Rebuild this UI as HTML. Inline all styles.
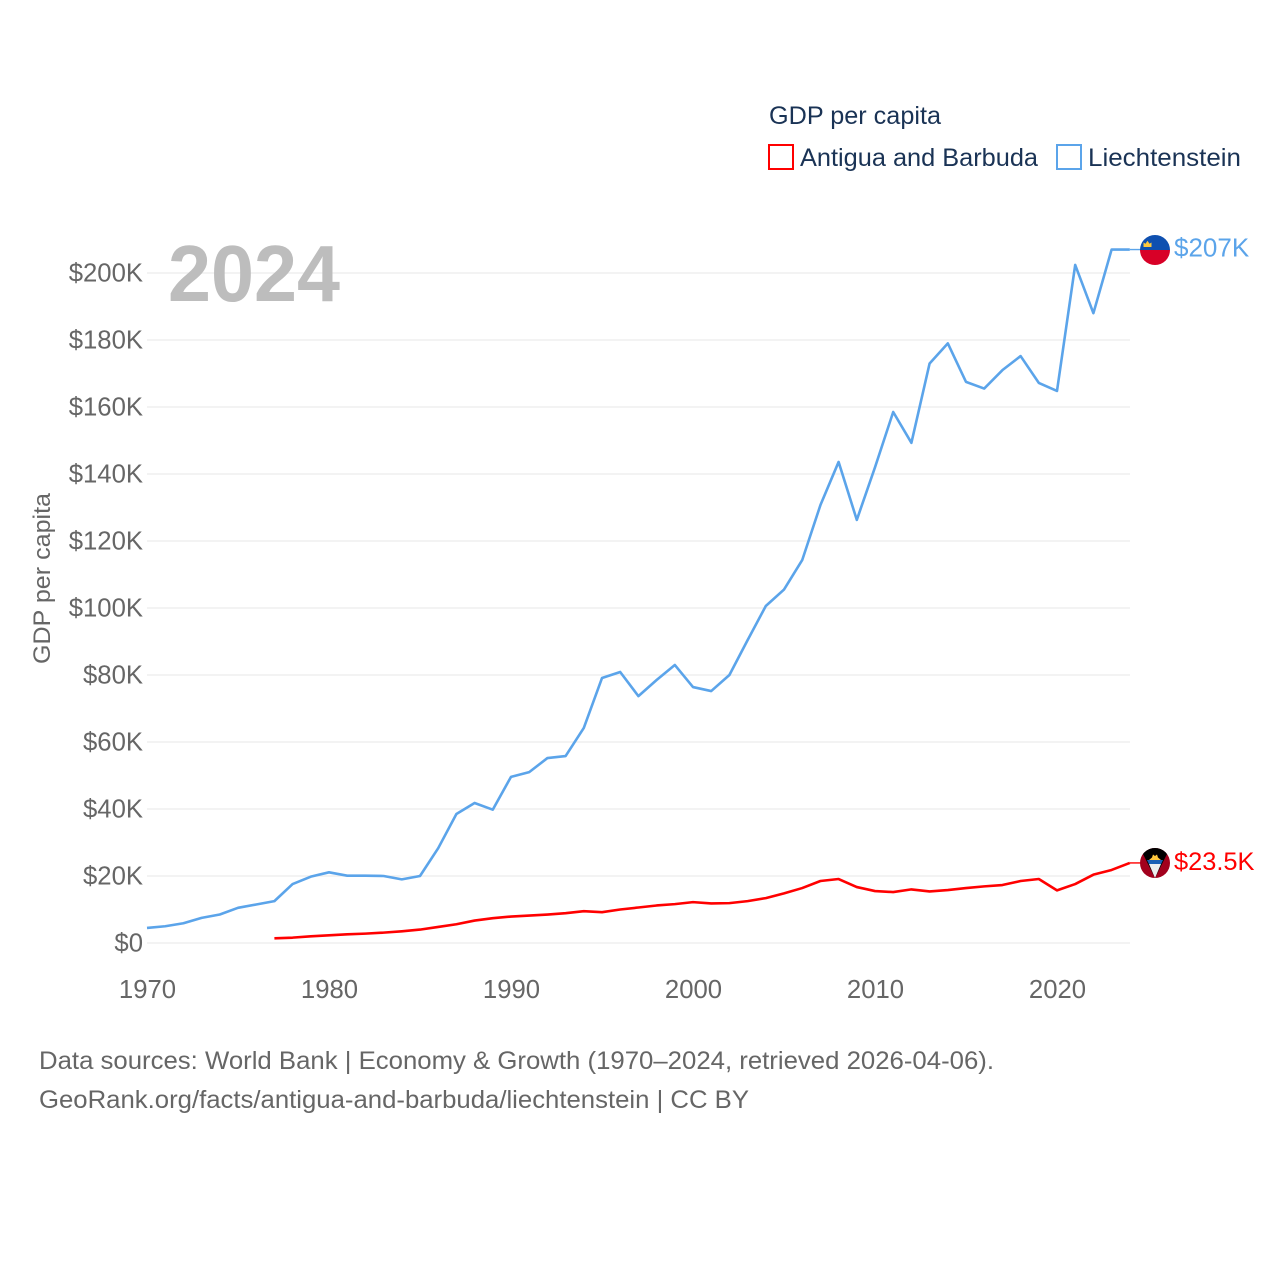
<!DOCTYPE html>
<html lang="en">
<head>
<meta charset="utf-8">
<title>GDP per capita: Antigua and Barbuda vs Liechtenstein</title>
<style>
html,body{margin:0;padding:0;background:#fff;width:1280px;height:1280px;overflow:hidden}
svg{display:block}
text{font-family:"Liberation Sans",sans-serif}
</style>
</head>
<body>
<svg id="chart" xmlns="http://www.w3.org/2000/svg" width="1280" height="1280" viewBox="0 0 1280 1280">
  <defs>
    <clipPath id="flag-li"><circle cx="1155" cy="250" r="15"/></clipPath>
    <clipPath id="flag-ag"><circle cx="1155" cy="863" r="15"/></clipPath>
  </defs>
  <g id="grid"></g>
  <g id="yticks"></g>
  <g id="xticks"></g>
  <text x="168" y="301" font-size="80" font-weight="700" fill="#bdbdbd" textLength="172" lengthAdjust="spacingAndGlyphs">2024</text>
  <text transform="translate(50,664) rotate(-90)" font-size="24" fill="#666" textLength="171" lengthAdjust="spacingAndGlyphs">GDP per capita</text>
  <g id="series"></g>

  <g>
    <text x="769" y="124" font-size="25" fill="#1a3355" textLength="172" lengthAdjust="spacingAndGlyphs">GDP per capita</text>
    <g>
      <rect x="769" y="145" width="24" height="24" fill="#fff" stroke="#ff0000" stroke-width="2"/>
      <text x="800" y="166" font-size="25" fill="#1a3355" textLength="238" lengthAdjust="spacingAndGlyphs">Antigua and Barbuda</text>
    </g>
    <g>
      <rect x="1057" y="145" width="24" height="24" fill="#fff" stroke="#5ba4ea" stroke-width="2"/>
      <text x="1088" y="166" font-size="25" fill="#1a3355" textLength="153" lengthAdjust="spacingAndGlyphs">Liechtenstein</text>
    </g>
  </g>

  <g clip-path="url(#flag-li)">
    <rect x="1140" y="235" width="30" height="15" fill="#0f50b0"/>
    <rect x="1140" y="250" width="30" height="15" fill="#d80027"/>
    <path d="M1143.500 247 h8 v-4.500 l-2 1.300 l-2 -3 l-2 3 l-2 -1.300 z" fill="#ffc83d"/>
  </g>
  <g clip-path="url(#flag-ag)">
    <rect x="1140" y="848" width="30" height="30" fill="#a2001d"/>
    <path d="M1140 848 h30 l-15 30 z" fill="#000"/>
    <path d="M1149 860 l3 -2.500 l1 -3 l2 1.500 l2 -1.500 l1 3 l3 2.500 z" fill="#ffc83d"/>
    <path d="M1147 860 h16 l-1.900 4 h-12.200 z" fill="#1a5fb4"/>
    <path d="M1149 864 h12 l-6 14 z" fill="#eee"/>
  </g>
  <g id="endlabels"></g>

  <text x="39" y="1069" font-size="25" fill="#666" textLength="955" lengthAdjust="spacingAndGlyphs">Data sources: World Bank | Economy &amp; Growth (1970–2024, retrieved 2026-04-06).</text>
  <text x="39" y="1108" font-size="25" fill="#666" textLength="710" lengthAdjust="spacingAndGlyphs">GeoRank.org/facts/antigua-and-barbuda/liechtenstein | CC BY</text>
</svg>
<script>
const liechtensteinStartYear = 1970;
const liechtensteinValues = [4.5,5,5.9,7.5,8.5,10.5,11.5,12.5,17.6,19.8,21.1,20.1,20.1,20,19,20,28.3,38.5,41.8,39.8,49.6,51,55.2,55.8,64.2,79.1,80.9,73.7,78.5,83,76.4,75.2,80,90.4,100.6,105.5,114.3,130.7,143.6,126.3,142,158.5,149.3,173,179,167.5,165.5,171,175.2,167.2,164.8,202.4,188,207,207];
const antiguaStartYear = 1977;
const antiguaValues = [1.4,1.6,2,2.3,2.6,2.8,3.1,3.5,4,4.8,5.6,6.7,7.4,7.9,8.2,8.5,8.9,9.5,9.2,10,10.6,11.2,11.6,12.2,11.8,11.9,12.5,13.4,14.8,16.4,18.5,19.1,16.7,15.5,15.2,16,15.4,15.8,16.4,16.9,17.3,18.5,19.1,15.7,17.6,20.4,21.8,23.9];
const yTickValues = [0,20,40,60,80,100,120,140,160,180,200];
const yTickLabels = ["$0","$20K","$40K","$60K","$80K","$100K","$120K","$140K","$160K","$180K","$200K"];
const xTickValues = [1970,1980,1990,2000,2010,2020];
const endLabels = ["$207K","$23.5K"];

const NS = "http://www.w3.org/2000/svg";
function xScale(year){ return 147 + (year - 1970) * 18.2; }
function yScale(v){ return 943 - v * 3.35; }
function make(tag, attrs, parent, txt){
  const el = document.createElementNS(NS, tag);
  for (const k in attrs) el.setAttribute(k, attrs[k]);
  if (txt !== undefined) el.textContent = txt;
  parent.appendChild(el);
  return el;
}
const gridG = document.getElementById('grid');
const yG = document.getElementById('yticks');
const xG = document.getElementById('xticks');
const seriesG = document.getElementById('series');
const endG = document.getElementById('endlabels');

yTickValues.forEach(function(v, i){
  const ln = make('line', {x1:147, x2:1130, y1:yScale(v), y2:yScale(v), stroke:'#ececec', 'stroke-width':1.3}, gridG);
  
  
  const t = make('text', {x:143, y:yScale(v)+8.5, 'text-anchor':'end', 'font-size':25.7, fill:'#666'}, yG, yTickLabels[i]);
  
  
});
xTickValues.forEach(function(y){
  const t = make('text', {x:xScale(y)+0.5, y:998, 'text-anchor':'middle', 'font-size':25.7, fill:'#666'}, xG, String(y));
  
  
});
function drawSeries(values, startYear, color, name, labelText, size){
  const pts = values.map(function(v, i){ return xScale(startYear + i).toFixed(2) + ',' + yScale(v).toFixed(2); });
  const path = make('polyline', {points:pts.join(' '), fill:'none', stroke:color, 'stroke-width':2.6, 'stroke-linejoin':'round'}, seriesG);
  
  
  const lastX = xScale(startYear + values.length - 1);
  const lastY = yScale(values[values.length - 1]);
  const conn = make('line', {x1:lastX, x2:1141, y1:lastY, y2:lastY, stroke:color, 'stroke-width':1.4}, seriesG);
  
  
  const lab = make('text', {x:1174, y:lastY+7, 'font-size':size, fill:color}, endG, labelText);
  
  
}
drawSeries(liechtensteinValues, liechtensteinStartYear, '#5ba4ea', 'liechtenstein', endLabels[0], 26);
drawSeries(antiguaValues, antiguaStartYear, '#ff0000', 'antigua', endLabels[1], 25.4);
</script>
</body>
</html>
